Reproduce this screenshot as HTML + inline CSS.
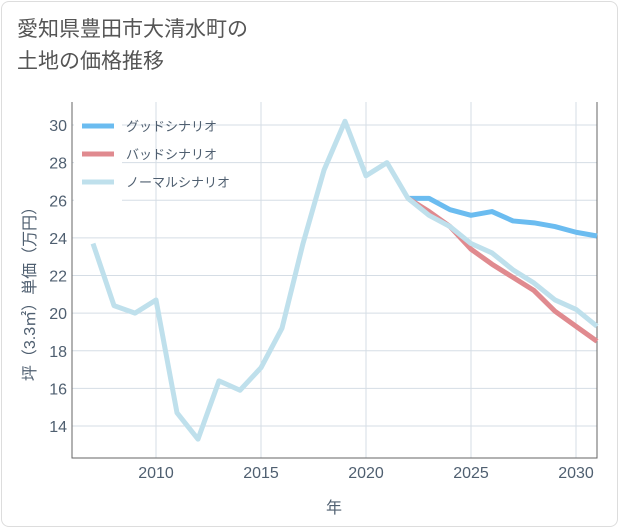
<!DOCTYPE html>
<html><head><meta charset="utf-8"><style>
body{margin:0;background:#fff;}
#wrap{position:relative;width:621px;height:530px;background:#fff;font-family:"Liberation Sans","Noto Sans CJK JP",sans-serif;}
#card{position:absolute;left:1px;top:1px;width:617px;height:526px;border:1px solid #ddd;border-radius:8px;box-sizing:border-box;}
#title{position:absolute;left:17px;top:14px;font-size:21px;line-height:32px;color:#555;}
</style></head><body>
<div id="wrap">
<div id="card"></div>
<div id="title">愛知県豊田市大清水町の<br>土地の価格推移</div>
<svg id="chart" width="621" height="530" style="position:absolute;left:0;top:0"></svg>
</div>
<script>
const yearsNormal=[2007,2008,2009,2010,2011,2012,2013,2014,2015,2016,2017,2018,2019,2020,2021,2022,2023,2024,2025,2026,2027,2028,2029,2030,2031];
const valuesNormal=[23.7,20.4,20.0,20.7,14.7,13.3,16.4,15.9,17.1,19.2,23.7,27.6,30.2,27.3,28.0,26.1,25.2,24.6,23.7,23.2,22.3,21.6,20.7,20.2,19.3];
const yearsForecast=[2022,2023,2024,2025,2026,2027,2028,2029,2030,2031];
const valuesGood=[26.1,26.1,25.5,25.2,25.4,24.9,24.8,24.6,24.3,24.1];
const valuesBad=[26.1,25.4,24.6,23.4,22.6,21.9,21.2,20.1,19.3,18.5];
const xTicks=[2010,2015,2020,2025,2030];
const yTicks=[14,16,18,20,22,24,26,28,30];
const legendLabels=["グッドシナリオ","バッドシナリオ","ノーマルシナリオ"];
const colors=["#6bbcf0","#e08a8f","#bfe0ec"];

const L=72,R=597,T=102,B=458;
const x=v=>93+(v-2007)*21;
const y=v=>426-(v-14)*(426-125)/16;
const svg=document.getElementById('chart');
const NS='http://www.w3.org/2000/svg';
const TXT='#4f5f70';
function mk(tag,attrs){const e=document.createElementNS(NS,tag);for(const k in attrs)e.setAttribute(k,attrs[k]);svg.appendChild(e);return e;}

const bg=mk('rect',{x:L,y:T,width:R-L,height:B-T,fill:'#fff'});


yTicks.forEach(v=>{
  const g=mk('line',{x1:L,x2:R,y1:y(v),y2:y(v),stroke:'#d5dde5','stroke-width':1});
  
  
  const t=mk('text',{x:L-5,y:y(v)+6,'text-anchor':'end','font-size':16,fill:TXT});
  t.textContent=v;
  
  
});
xTicks.forEach(v=>{
  const g=mk('line',{x1:x(v),x2:x(v),y1:T,y2:B,stroke:'#d5dde5','stroke-width':1});
  
  
  const t=mk('text',{x:x(v),y:B+20,'text-anchor':'middle','font-size':16,fill:TXT});
  t.textContent=v;
  
  
});
const ax=mk('path',{d:`M${L},${T}V${B}H${R}V${T}`,fill:'none',stroke:'#666','stroke-width':1});



function line(xs,vs,c,name){
  const p=mk('polyline',{points:xs.map((a,i)=>x(a)+','+y(vs[i])).join(' '),fill:'none',stroke:c,'stroke-width':5,'stroke-linejoin':'round'});
  
  
}
line(yearsForecast,valuesGood,colors[0],'good-scenario-line');
line(yearsForecast,valuesBad,colors[1],'bad-scenario-line');
line(yearsNormal,valuesNormal,colors[2],'normal-scenario-line');

const lb=mk('rect',{x:74,y:110,width:48,height:92,fill:'#fff'});


legendLabels.forEach((s,i)=>{
  const yy=126+i*28;
  const l=mk('line',{x1:82,x2:114,y1:yy,y2:yy,stroke:colors[i],'stroke-width':5});
  
  
  const t=mk('text',{x:126,y:yy+5,'font-size':13,fill:TXT});
  t.textContent=s;
  
  
});
const xt=mk('text',{x:334,y:513,'text-anchor':'middle','font-size':16,fill:TXT});
xt.textContent='年';


const yt=mk('text',{x:0,y:0,'text-anchor':'middle','font-size':16,fill:TXT,transform:'translate(35,290) rotate(-90)'});
yt.textContent='坪（3.3㎡）単価（万円）';


</script>
</body></html>
